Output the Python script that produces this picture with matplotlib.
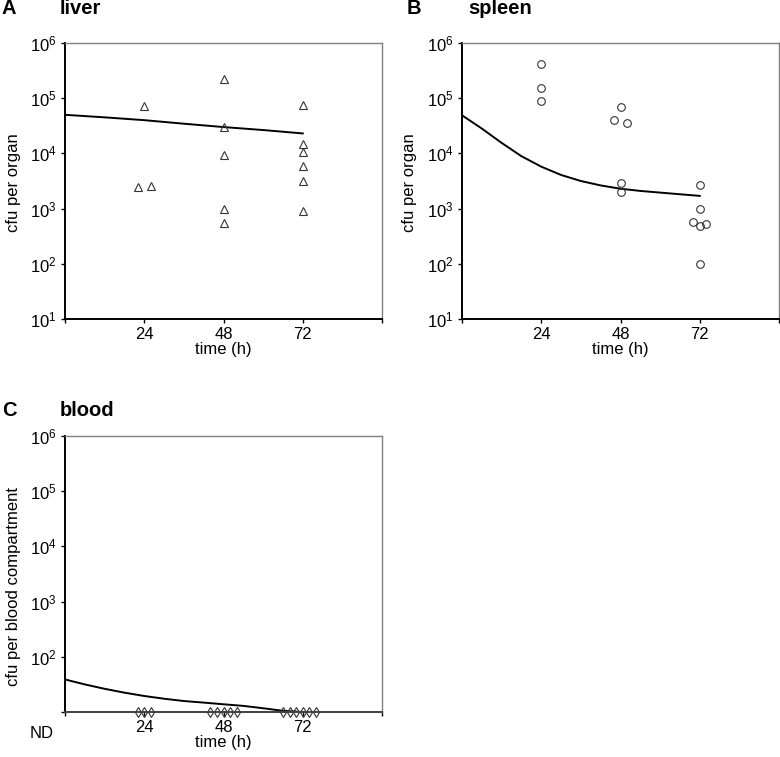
import matplotlib
matplotlib.use('Agg')
import matplotlib.pyplot as plt
import matplotlib.transforms as mtransforms

plt.rcParams['font.family'] = ['Liberation Sans', 'DejaVu Sans']
plt.rcParams['mathtext.fontset'] = 'custom'
plt.rcParams['mathtext.rm'] = 'Liberation Sans'
plt.rcParams['mathtext.it'] = 'Liberation Sans:italic'

liver_t = [24, 22, 26, 48, 48, 48, 48, 48, 72, 72, 72, 72, 72, 72]
liver_cfu = [7.2e4, 2.5e3, 2.55e3, 2.2e5, 3.0e4, 9.4e3, 9.8e2, 5.4e2,
             7.6e4, 1.45e4, 1.05e4, 5.9e3, 3.1e3, 9.1e2]

spleen_t = [24, 24, 24, 48, 46, 50, 48, 48, 72, 72, 70, 72, 74, 72]
spleen_cfu = [4.1e5, 1.5e5, 8.9e4, 6.8e4, 4.0e4, 3.5e4, 2.9e3, 2.0e3,
              2.7e3, 9.8e2, 5.8e2, 4.8e2, 5.2e2, 1.0e2]

blood_t = [22, 24, 26, 44, 46, 48, 50, 52, 66, 68, 70, 72, 74, 76]
blood_cfu = [10, 10, 10, 10, 10, 10, 10, 10, 10, 10, 10, 10, 10, 10]  # ND

# model curves
liver_fit_t = [0, 12, 24, 36, 48, 60, 72]
liver_fit = [5.0e4, 4.5e4, 4.0e4, 3.45e4, 3.0e4, 2.65e4, 2.3e4]
fit_t = [0, 6, 12, 18, 24, 30, 36, 42, 48, 54, 60, 66, 72]
spleen_fit = [49000, 28200, 15500, 8900, 5750, 4070, 3160, 2630, 2290,
              2090, 1950, 1820, 1700]
blood_fit = [38.9, 31.6, 26.3, 22.4, 19.5, 17.4, 15.8, 14.8, 13.8,
             12.9, 11.7, 10.5, 10.0]

xticks = [0, 24, 48, 72, 96]
xticklabels = ['', '24', '48', '72', '']
yticks = [1e1, 1e2, 1e3, 1e4, 1e5, 1e6]
yticklabels = ['$10^1$', '$10^2$', '$10^3$', '$10^4$', '$10^5$', '$10^6$']

W, H = 780, 757
fig = plt.figure(figsize=(W / 100, H / 100), dpi=100)


def make_ax(x0, y0, x1, y1):
    ax = fig.add_axes([x0 / W, 1 - y1 / H, (x1 - x0) / W, (y1 - y0) / H])
    ax.set_yscale('log')
    ax.set_xlim(0, 96)
    ax.set_ylim(10, 1e6)
    ax.set_xticks(xticks)
    ax.set_xticklabels(xticklabels)
    ax.set_yticks(yticks)
    ax.set_yticklabels(yticklabels)
    ax.minorticks_off()
    ax.tick_params(labelsize=12, length=3, width=1, pad=3)
    ax.spines['left'].set_linewidth(1.4)
    ax.spines['bottom'].set_linewidth(1.4)
    for s in ['top', 'right']:
        ax.spines[s].set_color('#808080')
        ax.spines[s].set_linewidth(1)
    ax.set_xlabel('time (h)', fontsize=12, labelpad=0)
    return ax


mk = dict(linestyle='none', markerfacecolor='none', markeredgecolor='#333333',
          markeredgewidth=0.8, clip_on=False)
tfont = dict(fontsize=14.5, fontweight='bold', va='center')

# A liver
ax = make_ax(65, 43, 382, 319)
ax.plot(liver_fit_t, liver_fit, color='black', lw=1.4)
ax.plot(liver_t, liver_cfu, marker='^', markersize=6, **mk)
ax.set_ylabel('cfu per organ', fontsize=12)
ax.yaxis.set_label_coords(-0.139, 0.493)
fig.text(2 / W, 1 - 9 / H, 'A', **tfont)
fig.text(60 / W, 1 - 9 / H, 'liver', **tfont)

# B spleen
ax = make_ax(462, 43, 779, 319)
ax.plot(fit_t, spleen_fit, color='black', lw=1.4)
ax.plot(spleen_t, spleen_cfu, marker='o', markersize=5.5, **mk)
ax.set_ylabel('cfu per organ', fontsize=12)
ax.yaxis.set_label_coords(-0.142, 0.493)
fig.text(407 / W, 1 - 9 / H, 'B', **tfont)
fig.text(468 / W, 1 - 9 / H, 'spleen', **tfont)

# C blood
ax = make_ax(65, 436, 382, 712)
ax.plot(fit_t, blood_fit, color='black', lw=1.4)
ax.plot(blood_t, blood_cfu, marker='d', markersize=5, **mk)
ax.set_yticklabels([''] + yticklabels[1:])
ax.spines['bottom'].set_color('#404040')
ax.set_ylabel('cfu per blood compartment', fontsize=12)
ax.yaxis.set_label_coords(-0.139, 0.453)
trans = mtransforms.blended_transform_factory(fig.transFigure, ax.transAxes)
ax.text(42 / W, -0.05, 'ND', fontsize=12, ha='center', va='top', transform=trans)
fig.text(2 / W, 1 - 411 / H, 'C', **tfont)
fig.text(60 / W, 1 - 411 / H, 'blood', **tfont)

fig.savefig('out.png', dpi=100)
